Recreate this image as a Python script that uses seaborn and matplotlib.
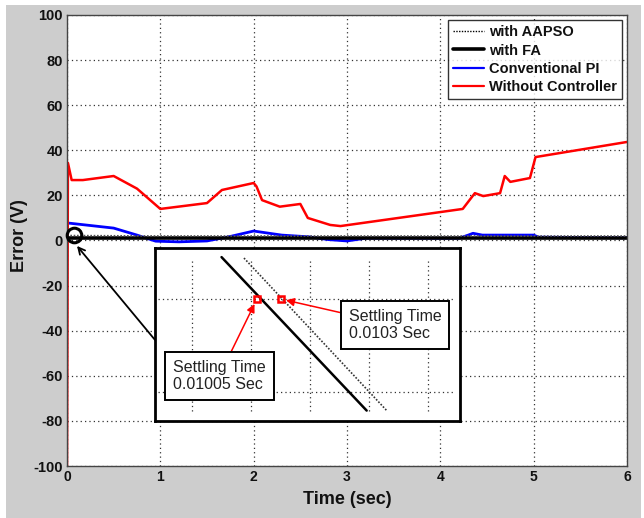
import matplotlib
matplotlib.use('Agg')
import matplotlib.pyplot as plt
import seaborn as sns
from matplotlib.lines import Line2D
from matplotlib.patches import Rectangle

# ------------------------------------------------------------------
# Data
# ------------------------------------------------------------------
# Without controller (red)
t_red = [0.0, 0.01, 0.05, 0.17, 0.5, 0.75, 1.0, 1.5, 1.66, 2.0, 2.03, 2.09,
         2.28, 2.5, 2.58, 2.82, 2.93, 4.24, 4.37, 4.46, 4.64, 4.69, 4.75,
         4.96, 5.02, 6.0]
e_red = [-100, 34.4, 26.8, 26.8, 28.6, 23.0, 14.0, 16.6, 22.4, 25.5, 24.0, 17.9,
         15.0, 16.2, 10.0, 6.9, 6.4, 14.0, 21.0, 19.7, 21.0, 28.6, 26.0,
         27.7, 37.0, 43.7]

# Conventional PI (blue)
t_pi = [0.0, 0.5, 0.75, 0.95, 1.2, 1.5, 1.75, 2.0, 2.3, 2.6, 2.8, 3.0, 3.2,
        4.2, 4.3, 4.35, 4.45, 5.0, 5.05, 5.6, 6.0]
e_pi = [7.8, 5.5, 2.4, -0.3, -0.6, -0.2, 1.8, 4.2, 2.4, 1.6, 0.4, -0.2, 1.0,
        1.0, 2.4, 3.2, 2.4, 2.4, 1.5, 1.3, 1.2]

# with FA (solid black) and with AAPSO (dotted)
t_fa = [0, 1, 2, 3, 4, 5, 6]
e_fa = [1.0, 1.0, 1.0, 1.0, 1.0, 1.0, 1.0]
t_pso = [0, 1, 2, 3, 4, 5, 6]
e_pso = [2.2, 2.0, 2.0, 2.0, 2.0, 2.0, 2.0]

# Zoomed inset near t = 0.01 s
ins_t_fa = [0.00975, 0.01098]
ins_e_fa = [0.95, -0.70]
ins_t_pso = [0.00994, 0.01115]
ins_e_pso = [0.94, -0.70]
settle_t = [0.01005, 0.01025]
settle_e = [0.5, 0.5]
settle_txt = ['Settling Time\n0.01005 Sec', 'Settling Time\n0.0103 Sec']
ins_grid_x = [0.0095, 0.0100, 0.0105, 0.0110, 0.0115]
ins_grid_y = [0.5, -0.5]

x_ticks = [0, 1, 2, 3, 4, 5, 6]
y_ticks = [-100, -80, -60, -40, -20, 0, 20, 40, 60, 80, 100]

# ------------------------------------------------------------------
# Style
# ------------------------------------------------------------------
sns.set_theme(style='white')
plt.rcParams['font.family'] = ['Liberation Sans', 'DejaVu Sans']
plt.rcParams['axes.unicode_minus'] = False
plt.rcParams['axes.labelcolor'] = '#111111'
plt.rcParams['text.color'] = '#111111'

fig = plt.figure(figsize=(6.44, 5.18), dpi=100, facecolor='white')
fig.patches.append(Rectangle((6 / 644, 0), 635 / 644, 1 - 5 / 518,
                             transform=fig.transFigure, facecolor='#cdcdcd',
                             edgecolor='none', zorder=-10))

ax = fig.add_axes([67 / 644, 1 - 466 / 518, 560 / 644, 451 / 518])
ax.set_facecolor('white')

sns.lineplot(x=t_pi, y=e_pi, ax=ax, color='#0000ff', linewidth=2.0,
             estimator=None, sort=False, legend=False)
sns.lineplot(x=t_red, y=e_red, ax=ax, color='#ff0000', linewidth=1.8,
             estimator=None, sort=False, legend=False)
sns.lineplot(x=t_fa, y=e_fa, ax=ax, color='black', linewidth=2.6,
             estimator=None, sort=False, legend=False)
sns.lineplot(x=t_pso, y=e_pso, ax=ax, color='#555555', linewidth=1.2,
             linestyle=(0, (1, 1)), estimator=None, sort=False, legend=False)

ax.set_xlim(0, 6)
ax.set_ylim(-100, 100)
ax.set_xticks(x_ticks)
ax.set_yticks(y_ticks)
ax.grid(True, linestyle=(0, (1, 2.5)), color='#333333', linewidth=0.9)
ax.tick_params(axis='both', direction='in', length=3, pad=3, colors='#111111')
for lab in ax.get_xticklabels():
    lab.set_fontweight('bold'); lab.set_fontsize(10)
for lab in ax.get_yticklabels():
    lab.set_fontweight('bold'); lab.set_fontsize(10.5)
for sp in ax.spines.values():
    sp.set_color('#444444'); sp.set_linewidth(1.0)

ax.set_xlabel('Time (sec)', fontsize=13, fontweight='bold', labelpad=5)
ax.set_ylabel('Error (V)', fontsize=13, fontweight='bold')
ax.yaxis.set_label_coords(-0.070, 0.512)

# circle at the origin and arrow pointing to it from the inset
ax.plot([0.08], [2.4], 'o', ms=10.5, mfc='none', mec='black', mew=2.2,
        clip_on=False, zorder=6)
ax.annotate('', xy=(0.107, -2.4), xytext=(0.943, -44.1),
            arrowprops=dict(arrowstyle='->', color='black', lw=1.3,
                            shrinkA=0, shrinkB=0))

handles = [
    Line2D([], [], color='black', linestyle=(0, (1, 1)), linewidth=1.0),
    Line2D([], [], color='black', linewidth=2.6),
    Line2D([], [], color='#0000ff', linewidth=1.6),
    Line2D([], [], color='#ff0000', linewidth=1.6),
]
labels = ['with AAPSO', 'with FA', 'Conventional PI', 'Without Controller']
leg = ax.legend(handles, labels, loc='upper right', frameon=True,
                fancybox=False, prop={'weight': 'bold', 'size': 10.5},
                handlelength=2.1, handletextpad=0.35, borderpad=0.35,
                labelspacing=0.3, borderaxespad=0.35)
leg.get_frame().set_edgecolor('black')
leg.get_frame().set_linewidth(1.0)

# ------------------------------------------------------------------
# Inset
# ------------------------------------------------------------------
ax_in = fig.add_axes([155 / 644, 1 - 421 / 518, 305 / 644, 173 / 518])
ax_in.set_facecolor('white')
ax_in.set_xlim(0.009186, 0.011771)
ax_in.set_ylim(-0.812, 1.048)
ax_in.set_xticks([])
ax_in.set_yticks([])
for sp in ax_in.spines.values():
    sp.set_color('black'); sp.set_linewidth(2.0)

ax_in.vlines(ins_grid_x, -0.70, 0.94, colors='#333333',
             linestyles=(0, (1, 2.5)), linewidth=0.9)
ax_in.hlines(ins_grid_y, 0.00921, 0.01171, colors='#333333',
             linestyles=(0, (1, 2.5)), linewidth=0.9)

sns.lineplot(x=ins_t_fa, y=ins_e_fa, ax=ax_in, color='black', linewidth=1.8,
             estimator=None, sort=False, legend=False)
sns.lineplot(x=ins_t_pso, y=ins_e_pso, ax=ax_in, color='#333333', linewidth=1.2,
             linestyle=(0, (1, 1)), estimator=None, sort=False, legend=False)
ax_in.plot(settle_t, settle_e, 's', ms=5, mfc='none', mec='red', mew=1.8,
           linestyle='none', zorder=5)

ax_in.annotate(settle_txt[0], xy=(settle_t[0], settle_e[0]),
               xytext=(0.00973, -0.33), ha='center', va='center',
               multialignment='left', fontsize=11.5, color='#222222',
               bbox=dict(boxstyle='square,pad=0.5', fc='white', ec='black', lw=1.4),
               arrowprops=dict(arrowstyle='-|>', color='red', lw=1.1,
                               shrinkA=0, shrinkB=4, mutation_scale=12))
ax_in.annotate(settle_txt[1], xy=(settle_t[1], settle_e[1]),
               xytext=(0.01122, 0.22), ha='center', va='center',
               multialignment='left', fontsize=11.5, color='#222222',
               bbox=dict(boxstyle='square,pad=0.5', fc='white', ec='black', lw=1.4),
               arrowprops=dict(arrowstyle='-|>', color='red', lw=1.1,
                               shrinkA=0, shrinkB=4, mutation_scale=12))

plt.savefig('out.png', dpi=100, facecolor=fig.get_facecolor())
